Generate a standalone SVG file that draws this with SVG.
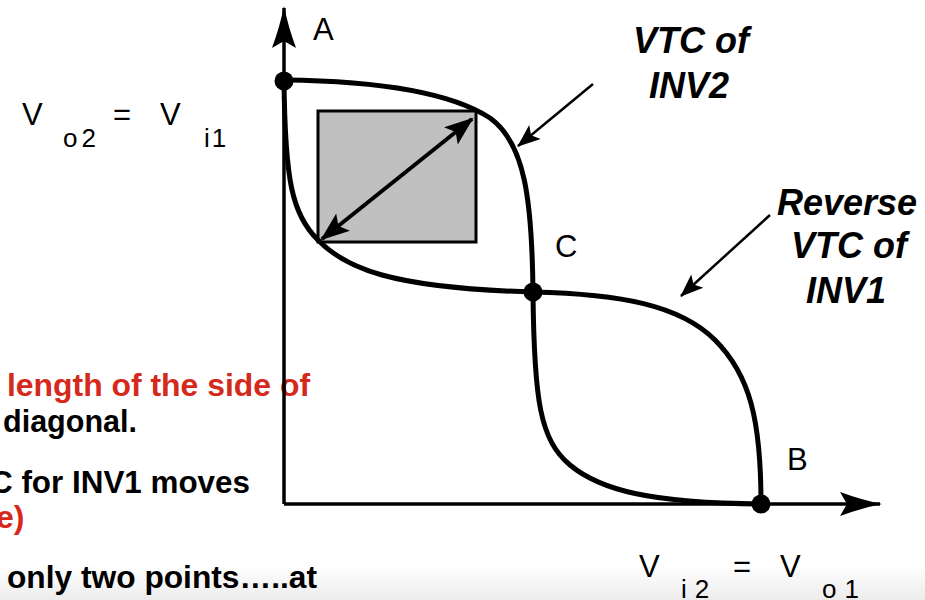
<svg xmlns="http://www.w3.org/2000/svg" width="925" height="600" viewBox="0 0 925 600">
  <defs>
    <linearGradient id="band" x1="0" y1="0" x2="0" y2="1">
      <stop offset="0" stop-color="#ffffff"/>
      <stop offset="1" stop-color="#ececec"/>
    </linearGradient>
    <marker id="axisHead" markerUnits="userSpaceOnUse" markerWidth="50" markerHeight="30" viewBox="-42 -15 46 30" refX="0" refY="0" orient="auto">
      <path d="M2,0 Q-18,-4 -40,-12 L-33,0 L-40,12 Q-18,4 2,0 Z" fill="#000"/>
    </marker>
    <marker id="dblHead" markerUnits="userSpaceOnUse" markerWidth="34" markerHeight="28" viewBox="-30 -14 34 28" refX="0" refY="0" orient="auto-start-reverse">
      <path d="M2,0 L-27,-11 L-21,0 L-27,11 Z" fill="#000"/>
    </marker>
    <marker id="callHead" markerUnits="userSpaceOnUse" markerWidth="30" markerHeight="24" viewBox="-26 -12 30 24" refX="0" refY="0" orient="auto">
      <path d="M1,0 L-22,-9 L-17,0 L-22,9 Z" fill="#000"/>
    </marker>
    <style>
      .curve { fill: none; stroke: #000; stroke-width: 5; }
      .axis { fill: none; stroke: #000; stroke-width: 3.5; }
      .dot { fill: #000; }
      .lbl { font-family: "Liberation Sans", Arial, sans-serif; font-size: 31px; fill: #000; }
      .sub { font-family: "Liberation Sans", Arial, sans-serif; font-size: 26px; fill: #000; }
      .call { font-family: "Liberation Sans", Arial, sans-serif; font-size: 36px; font-weight: bold; font-style: italic; fill: #000; text-anchor: middle; }
      .body { font-family: "Liberation Sans", Arial, sans-serif; font-size: 32px; font-weight: bold; fill: #000; }
      .red { fill: #d5291c; }
    </style>
  </defs>

  <rect x="0" y="0" width="925" height="600" fill="#fff"/>
  <rect x="0" y="565" width="925" height="35" fill="url(#band)"/>

  <!-- body text (partially cut off at left, as in the reference) -->
  <g id="body-text">
    <text class="body red" x="7" y="396" textLength="303" lengthAdjust="spacingAndGlyphs">length of the side of</text>
    <text class="body" x="3" y="432" textLength="134" lengthAdjust="spacingAndGlyphs">diagonal.</text>
    <text class="body" x="-10" y="493" textLength="260" lengthAdjust="spacingAndGlyphs">C for INV1 moves</text>
    <text class="body red" x="-4" y="528">e)</text>
    <text class="body" x="7" y="588" textLength="310" lengthAdjust="spacingAndGlyphs">only two points…..at</text>
  </g>

  <!-- axis labels -->
  <g id="y-label">
    <text class="lbl" x="22" y="125" font-size="32">V</text>
    <text class="sub" x="63" y="147" letter-spacing="4">o2</text>
    <text class="lbl" x="113" y="125" font-size="32">=</text>
    <text class="lbl" x="160" y="125" font-size="32">V</text>
    <text class="sub" x="204" y="147" letter-spacing="2">i1</text>
  </g>
  <g id="x-label">
    <text class="lbl" x="639" y="577" font-size="32">V</text>
    <text class="sub" x="681" y="598" letter-spacing="8">i2</text>
    <text class="lbl" x="733" y="577" font-size="32">=</text>
    <text class="lbl" x="780" y="577" font-size="32">V</text>
    <text class="sub" x="822" y="598" letter-spacing="8">o1</text>
  </g>

  <!-- square with diagonal -->
  <g id="square">
    <rect x="318" y="111" width="158" height="131" fill="#c0c0c0" stroke="#000" stroke-width="3"/>
  </g>

  <!-- connectors -->
  <g id="connectors">
    <line class="axis" x1="284" y1="504" x2="284" y2="8" marker-end="url(#axisHead)"/>
    <line class="axis" x1="284" y1="504" x2="880" y2="504" marker-end="url(#axisHead)"/>
    <line x1="322" y1="239" x2="472" y2="119" stroke="#000" stroke-width="4" marker-start="url(#dblHead)" marker-end="url(#dblHead)"/>
    <line x1="593" y1="84" x2="518" y2="146" stroke="#000" stroke-width="2.5" marker-end="url(#callHead)"/>
    <line x1="770" y1="215" x2="681" y2="296" stroke="#000" stroke-width="2.5" marker-end="url(#callHead)"/>
  </g>

  <!-- curves -->
  <g id="vtc-inv2">
    <path class="curve" d="M284,80 C380,81 450,92 490,118 C525,143 532,200 533,292 C534,400 540,440 570,465 C600,490 650,503 761,504"/>
  </g>
  <g id="reverse-vtc-inv1">
    <path class="curve" d="M284,80 C285,180 292,215 318,240 C345,268 390,288 533,292 C620,294 680,305 715,340 C750,375 761,420 761,504"/>
  </g>

  <!-- points -->
  <g id="point-A">
    <circle class="dot" cx="284" cy="81" r="9.5"/>
    <text class="lbl" x="313" y="40">A</text>
  </g>
  <g id="point-C">
    <circle class="dot" cx="533" cy="292" r="9.5"/>
    <text class="lbl" x="555" y="257">C</text>
  </g>
  <g id="point-B">
    <circle class="dot" cx="761" cy="504" r="9.5"/>
    <text class="lbl" x="787" y="470">B</text>
  </g>

  <!-- callout labels -->
  <g id="label-vtc-inv2">
    <text class="call" x="691" y="53">VTC of</text>
    <text class="call" x="689" y="98">INV2</text>
  </g>
  <g id="label-reverse-vtc-inv1">
    <text class="call" x="847" y="215">Reverse</text>
    <text class="call" x="849" y="258">VTC of</text>
    <text class="call" x="846" y="303">INV1</text>
  </g>
</svg>
